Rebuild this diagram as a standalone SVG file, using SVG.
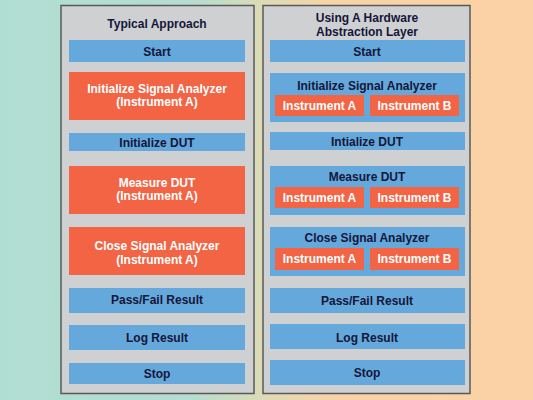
<svg xmlns="http://www.w3.org/2000/svg" width="533" height="400" viewBox="0 0 533 400">
<defs>
<linearGradient id="bg" x1="0" y1="0" x2="1" y2="0">
<stop offset="0" stop-color="#b1ded3"/>
<stop offset="0.36" stop-color="#b5ddd0"/>
<stop offset="0.49" stop-color="#dcdbb6"/>
<stop offset="0.62" stop-color="#f8d3a8"/>
<stop offset="1" stop-color="#fbd2a6"/>
</linearGradient>
<style>
.panel{fill:#cfd0d2;stroke:#58595b;stroke-width:1.5}
.blue{fill:#65a8dc}
.orange{fill:#f26444}
.t{font-family:"Liberation Sans",Arial,sans-serif;font-weight:bold;font-size:12px;text-anchor:middle}
.dk{fill:#14163a}
.wh{fill:#ffffff}
.title{font-size:12px}
</style>
</defs>
<rect width="533" height="400" fill="url(#bg)"/>
<g id="left-panel">
<rect class="panel" x="61" y="5.5" width="193" height="388"/>
<text class="t dk title" x="157" y="28">Typical Approach</text>
</g>
<g id="l-start"><rect class="blue" x="69" y="40" width="176" height="22"/><text class="t dk" x="157" y="55.5">Start</text></g>
<g id="l-init-sa"><rect class="orange" x="69" y="72" width="176" height="48"/><text class="t wh" x="157" y="93">Initialize Signal Analyzer</text><text class="t wh" x="157" y="106">(Instrument A)</text></g>
<g id="l-init-dut"><rect class="blue" x="69" y="133" width="176" height="18"/><text class="t dk" x="157" y="146.5">Initialize DUT</text></g>
<g id="l-measure"><rect class="orange" x="69" y="166" width="176" height="48"/><text class="t wh" x="157" y="187">Measure DUT</text><text class="t wh" x="157" y="200">(Instrument A)</text></g>
<g id="l-close"><rect class="orange" x="69" y="227" width="176" height="48"/><text class="t wh" x="157" y="250">Close Signal Analyzer</text><text class="t wh" x="157" y="264">(Instrument A)</text></g>
<g id="l-pass"><rect class="blue" x="69" y="288" width="176" height="25"/><text class="t dk" x="157" y="303.5">Pass/Fail Result</text></g>
<g id="l-log"><rect class="blue" x="69" y="325" width="176" height="25"/><text class="t dk" x="157" y="341.5">Log Result</text></g>
<g id="l-stop"><rect class="blue" x="69" y="363" width="176" height="21"/><text class="t dk" x="157" y="377.5">Stop</text></g>

<g id="right-panel">
<rect class="panel" x="263" y="5.5" width="207" height="388"/>
<text class="t dk title" x="367" y="22">Using A Hardware</text>
<text class="t dk title" x="367" y="36">Abstraction Layer</text>
</g>
<g id="r-start"><rect class="blue" x="270" y="40" width="195" height="22"/><text class="t dk" x="367" y="55.5">Start</text></g>
<g id="r-init-sa"><rect class="blue" x="270" y="73" width="195" height="49"/><text class="t dk" x="367" y="89.5">Initialize Signal Analyzer</text>
<rect class="orange" x="275" y="95" width="89" height="21"/><text class="t wh" x="319.5" y="110">Instrument A</text>
<rect class="orange" x="370" y="95" width="89" height="21"/><text class="t wh" x="414.5" y="110">Instrument B</text></g>
<g id="r-init-dut"><rect class="blue" x="270" y="132" width="195" height="18"/><text class="t dk" x="367" y="145.5">Intialize DUT</text></g>
<g id="r-measure"><rect class="blue" x="270" y="166" width="195" height="49"/><text class="t dk" x="367" y="180.5">Measure DUT</text>
<rect class="orange" x="275" y="187" width="89" height="21"/><text class="t wh" x="319.5" y="202">Instrument A</text>
<rect class="orange" x="370" y="187" width="89" height="21"/><text class="t wh" x="414.5" y="202">Instrument B</text></g>
<g id="r-close"><rect class="blue" x="270" y="227" width="195" height="49"/><text class="t dk" x="367" y="241.5">Close Signal Analyzer</text>
<rect class="orange" x="275" y="248" width="89" height="22"/><text class="t wh" x="319.5" y="263">Instrument A</text>
<rect class="orange" x="370" y="248" width="89" height="22"/><text class="t wh" x="414.5" y="263">Instrument B</text></g>
<g id="r-pass"><rect class="blue" x="270" y="288" width="195" height="25"/><text class="t dk" x="367" y="304.5">Pass/Fail Result</text></g>
<g id="r-log"><rect class="blue" x="270" y="324" width="195" height="25"/><text class="t dk" x="367" y="342">Log Result</text></g>
<g id="r-stop"><rect class="blue" x="270" y="360" width="195" height="25"/><text class="t dk" x="367" y="377">Stop</text></g>
<g id="connectors"/>
</svg>
